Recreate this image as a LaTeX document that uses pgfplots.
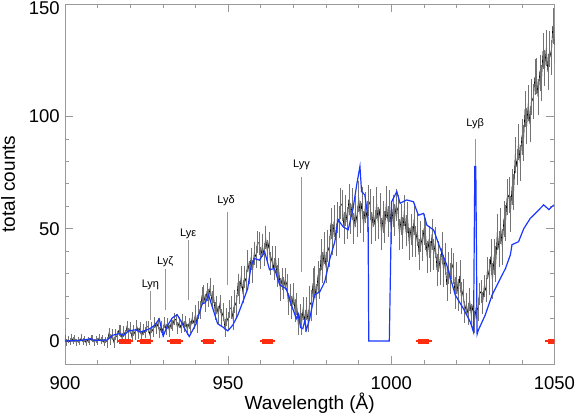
\documentclass[border=0pt]{standalone}
\usepackage{pgfplots}
\usepackage{pgfplotstable}
\usepackage{fontspec}
\setmainfont{Liberation Sans}
\pgfplotsset{compat=1.18}

\definecolor{modelblue}{RGB}{25,55,255}
\definecolor{maskred}{RGB}{255,45,15}
\definecolor{linegray}{RGB}{150,150,150}

% observed counts, 0.5 A bins: wavelength, counts, error
\pgfplotstableread{
x y e
900 1.0 1.5
900.5 -0.7 1.5
901 0.7 1.5
901.5 -0.3 1.5
902 1.5 1.5
902.5 0.1 1.5
903 1.1 1.5
903.5 -0.8 1.5
904 0.4 1.5
904.5 -0.4 1.5
905 1.4 1.5
905.5 -0.2 1.5
906 0.9 1.5
906.5 -0.9 1.5
907 0.5 1.5
907.5 -0.1 1.5
908 1.3 1.5
908.5 1.0 1.5
909 -0.7 1.5
909.5 0.7 1.5
910 -0.3 1.5
910.5 1.5 1.5
911 0.1 1.5
911.5 1.1 1.5
912 -0.8 1.5
912.5 0.4 1.5
913 -0.5 2.5
913.5 3.5 2.5
914 0.5 2.5
914.5 3.0 2.5
915 -0.5 2.5
915.5 2.75 2.5
916 1.75 2.5
916.5 4.75 2.5
917 4.5 2.5
917.5 1.25 2.5
918 4.25 2.5
918.5 2.4 2.5
919 6.3 2.5
919.5 3.4 2.5
920 5.75 2.5
920.5 2.0 2.5
921 4.75 2.5
921.5 3.0 2.5
922 6.75 2.5
922.5 3.5 2.5
923 5.75 2.5
923.5 2.0 2.5
924 5.0 2.5
924.5 3.75 2.5
925 6.5 2.5
925.5 6.25 2.5
926 3.0 2.5
926.5 6.0 2.5
927 4.25 2.5
927.5 8.25 2.5
928 5.5 2.5
928.5 7.75 2.5
929 3.75 2.5
929.5 6.25 2.5
930 4.5 2.5
930.5 8.25 2.5
931 5.0 2.5
931.5 7.75 2.5
932 4.5 2.5
932.5 7.75 2.5
933 6.75 2.5
933.5 9.75 2.5
934 9.5 2.5
934.5 5.75 2.5
935 8.25 2.5
935.5 6.0 2.5
936 9.5 2.5
936.5 6.5 2.5
937 8.75 2.5
937.5 5.0 2.5
938 7.75 2.5
938.5 6.25 2.5
939 10.25 2.5
939.5 8.0 2.5
940 12.0 4
940.5 7.5 4
941 13.8 4
941.5 13.8 4
942 20.2 4
942.5 20.9 4
943 16.8 4
943.5 21.7 4
944 19.0 4
944.5 24.0 4
945 18.2 4
945.5 20.8 4
946 13.4 4
946.5 15.9 4
947 11.6 4
947.5 16.6 4
948 10.4 4
948.5 13.0 4
949 6.0 4
949.5 10.8 4
950 8.8 4
950.5 14.2 4
951 15 5
951.5 10 5
952 17.5 5
952.5 15.5 5
953 25 5
953.5 21.5 5
954 28.5 5
954.5 22 5
955 28.5 5
955.5 26.5 5
956 35.5 5
956.5 30.5 5
957 36.5 5
957.5 31 5
958 39 5
958.5 37.5 5
959 44 5
959.5 43.5 5
960 37 5
960.5 42.5 5
961 38.5 5
961.5 46 5
962 40 5
962.5 43.5 5
963 34.5 5
963.5 37.5 5
964 32 5
964.5 37.5 5
965 29 5
965.5 32 5
966 23 5
966.5 27.5 5
967 23.5 5
967.5 27.5 5
968 25 5
968.5 16.5 5
969 20.5 5
969.5 15 5
970 21 5
970.5 13.5 5
971 16.5 5
971.5 7.5 5
972 11.5 5
972.5 7.5 5
973 14.5 5
973.5 9 5
974 14.5 5
974.5 9 5
975 17.4 7
975.5 15.9 7
976 25.6 7
976.5 26.2 7
977 18.4 7
977.5 28.6 7
978 25.5 7
978.5 38.5 7
979 32.6 7
979.5 41.4 7
980 32.7 7
980.5 42.2 7
981 39.8 7
981.5 52.3 7
982 45.2 7
982.5 53.5 7
983 45 7
983.5 54.9 7
984 52.9 7
984.5 61.1 7
985 60.2 7
985.5 50.4 7
986 58.1 7
986.5 52.5 7
987 63 7
987.5 54.6 7
988 60.9 7
988.5 50.2 7
989 57.7 7
989.5 53.3 7
990 64.3 7
990.5 55.2 7
991 61.5 7
991.5 51 7
992 59.4 7
992.5 55.4 7
993 62.6 7
993.5 60.7 7
994 50.4 7
994.5 57.6 7
995 51.5 7
995.5 61.5 7
996 52.6 7
996.5 58.9 7
997 47.7 7
997.5 55.2 7
998 50.8 7
998.5 61.8 7
999 53.2 7
999.5 60 7
1000 50 7
1000.5 57.9 7
1001 53.9 7
1001.5 60.6 7
1002 58.2 7
1002.5 47.4 7
1003 54.1 7
1003.5 48 7
1004 58 7
1004.5 49.1 7
1005 54.9 7
1005.5 43.2 7
1006 49.7 7
1006.5 44.3 7
1007 54.3 7
1007.5 44.2 7
1008 49.5 7
1008.5 38.5 7
1009 46.4 7
1009.5 42.4 7
1010 49.6 7
1010.5 47.7 7
1011 37.4 7
1011.5 44.1 7
1012 37.5 7
1012.5 47.5 7
1013 38.6 7
1013.5 43.9 7
1014 31.7 7
1014.5 37.7 7
1015 31.8 7
1015.5 41.3 7
1016 31.2 7
1016.5 36.5 7
1017 25 7
1017.5 32.4 7
1018 27.9 7
1018.5 34.6 7
1019 32.2 7
1019.5 21.4 7
1020 28.1 7
1020.5 20.5 7
1021 29 7
1021.5 19.1 7
1022 22.5 5
1022.5 13 5
1023 16.5 5
1023.5 12 5
1024 18.5 5
1024.5 11.5 5
1025 15.5 5
1025.5 8.5 5
1026 15 5
1026.5 14 5
1027 21 5
1027.5 22 5
1028 17 5
1028.5 24.5 5
1029 22.5 5
1029.5 32.5 5
1030 28.4 8
1030.5 37.6 8
1031 26.8 8
1031.5 37.3 8
1032 34.2 8
1032.5 48.7 8
1033 40.8 8
1033.5 51 8
1034 42 8
1034.5 54.1 8
1035 52.6 8
1035.5 63.9 8
1036 64.8 8
1036.5 56.6 8
1037 68.4 8
1037.5 66.5 8
1038 83 8
1038.5 77.4 8
1039 88.6 8
1039.5 79.3 8
1040 90.8 8
1040.5 88.2 8
1041 103.2 8
1041.5 95.8 8
1042 106 8
1042.5 96.5 8
1043 108.6 8
1043.5 106.6 8
1044 117.4 8
1044.5 117.8 8
1045 108.6 8
1045.5 119.4 8
1046 115 8
1046.5 129 8
1047 121.4 8
1047.5 130.6 8
1048 119.8 8
1048.5 129.8 8
1049 126.2 8
1049.5 140.2 8
1050 131.8 8
}\obsdata

% model spectrum
\pgfplotstableread{
x y
900 0
905 0.3
908 1
909 0.2
913 0.5
914.5 2.5
916.6 3.3
918 2.5
919.5 4.5
921.7 5
923 4
924.3 4.5
926 5.5
927.5 7
928.9 9.8
930.1 2.2
931.5 7
932.9 10.3
934.4 11.7
935.5 9
936.5 6
938.1 2
940.2 7.7
942.1 16.7
943 17
944 20.5
945.2 15
946.8 7.7
948.4 6.2
949.9 4.5
951.4 7
953 11.6
954.5 17.4
956 23.3
957.1 33.9
958.1 36.7
959.6 36
961.2 39.7
962.7 31.7
964.2 32.3
965.8 25
967.8 23.3
969.4 16
970.9 10
971.5 12
972.2 6
972.9 5.5
973.5 9
974 5
975 10
976.5 20.5
978.1 21.9
979.6 26.3
981.2 36.7
982.7 44.2
983.7 54
985.2 50.9
986.8 49.5
988.3 59
989.4 69.5
990.4 77.7
990.9 66.5
991.9 65
992.9 54.6
993.1 0
999.4 0
1000.1 62
1001.7 66.5
1002.7 61.3
1004.7 62.8
1006.8 62
1008.3 56
1009.9 56.8
1010.9 51.6
1013 49.4
1015 41.2
1017 33.9
1019.6 20.5
1022.1 14.4
1024.2 8.5
1025.2 4
1025.4 40
1025.6 77.7
1025.9 77.7
1026.1 40
1026.3 3
1026.7 4.9
1028.8 11.6
1030.9 20.5
1032.9 26.3
1035 32.3
1036.5 38.4
1037 42.9
1039 44.2
1040.6 50
1042.6 54.6
1044.7 57.6
1046.7 60.6
1048.3 58.5
1049.8 60.6
}\modeldata

\begin{document}
\begin{tikzpicture}
\begin{axis}[
  width=488bp, height=359bp, scale only axis,
  xmin=900, xmax=1050, ymin=-10.3, ymax=150,
  xtick={900,950,1000,1050}, minor x tick num=4,
  ytick={0,50,100}, minor y tick num=4,
  extra y ticks={150},
  extra y tick style={yticklabel style={yshift=-4bp, inner ysep=1.5bp}},
  tick align=inside,
  major tick length=8bp, minor tick length=4bp,
  axis line style={draw=gray!80},
  tick style={draw=gray!80, line width=0.5pt},
  every tick label/.append style={font=\fontsize{18.5}{20}\selectfont, inner sep=0pt},
  yticklabel style={anchor=east, xshift=-5bp},
  xticklabel style={anchor=base, yshift=-25bp},
  /pgf/number format/assume math mode=true,
  /pgf/number format/1000 sep={},
  xlabel={Wavelength (Å)}, ylabel={total counts},
  label style={font=\fontsize{19}{21}\selectfont},
  xlabel style={at={(axis description cs:0.5,0)}, anchor=base,
    yshift=-45bp, inner sep=0.5bp},
  ylabel style={at={(axis description cs:-0.1025,0.5)}, anchor=base,
    inner sep=1bp},
  ]

  % Lyman series markers
  \addplot[linegray, line width=0.6pt] coordinates {(926.2,9.4) (926.2,22.3)};
  \addplot[linegray, line width=0.6pt] coordinates {(930.7,13.8) (930.7,32.1)};
  \addplot[linegray, line width=0.6pt] coordinates {(937.8,18.3) (937.8,45.1)};
  \addplot[linegray, line width=0.6pt] coordinates {(949.7,24.9) (949.7,57.6)};
  \addplot[linegray, line width=0.6pt] coordinates {(972.5,30.8) (972.5,73.2)};
  \addplot[linegray, line width=0.6pt] coordinates {(1025.7,60) (1025.7,90)};

  \addplot[black, line width=0.6pt,
    error bars/.cd, y dir=both, y explicit,
    error bar style={black!55, line width=0.5pt}, error mark=none]
    table[x=x, y=y, y error=e] {\obsdata};

  \addplot[modelblue, line width=1.2pt] table[x=x, y=y] {\modeldata};

  % masked regions
  \foreach \c in {918.4,924.6,933.8,944.0,962.1,1010.0,1049.6}{
    \edef\tmp{\noexpand\addplot[maskred, line width=1.5pt, forget plot]
      coordinates {(\c-2.4,0) (\c+2.4,0)};
      \noexpand\addplot[maskred, line width=5pt, forget plot]
      coordinates {(\c-1.7,0) (\c+1.7,0)};}
    \tmp
  }

  \begin{scope}[every node/.style={font=\fontsize{11}{12}\selectfont, inner sep=0pt}]
  \node at (axis cs:926.2,25.0) {Lyη};
  \node at (axis cs:930.7,35.3) {Lyζ};
  \node at (axis cs:937.8,47.8) {Lyε};
  \node at (axis cs:949.4,62.5) {Lyδ};
  \node at (axis cs:972.5,78.6) {Lyγ};
  \node at (axis cs:1025.7,96.9) {Lyβ};
  \end{scope}
\end{axis}
\end{tikzpicture}
\end{document}
